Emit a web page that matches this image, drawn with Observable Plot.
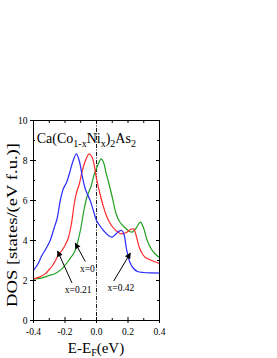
<!DOCTYPE html>
<html><head><meta charset="utf-8">
<script src="https://cdn.jsdelivr.net/npm/d3@7"></script>
<script src="https://cdn.jsdelivr.net/npm/@observablehq/plot@0.6"></script>
<style>body{margin:0;background:#fff}</style>
</head><body><div id="chart"></div>
<script>
const xTicksMajor = [-0.4, -0.2, 0.0, 0.2, 0.4];
const xTicksMinor = [-0.3, -0.1, 0.1, 0.3];
const yTicksMajor = [0, 2, 4, 6, 8, 10];
const yTicksMinor = [1, 3, 5, 7, 9];

const seriesNames = ["x=0", "x=0.21", "x=0.42"];
const seriesColors = ["#22a022", "#ff2a2a", "#2a2aff"];

const energyBlue = [-0.40,-0.37,-0.347,-0.32,-0.294,-0.27,-0.25,-0.23,-0.21,-0.19,-0.17,-0.15,-0.128,-0.11,-0.09,-0.07,-0.04,-0.02,0.0,0.02,0.05,0.08,0.10,0.12,0.14,0.16,0.175,0.19,0.21,0.23,0.26,0.30,0.35,0.40];
const dosBlue    = [2.50,2.85,3.25,3.60,4.00,4.60,5.10,6.00,6.60,6.90,7.40,7.95,8.33,8.00,7.20,6.55,6.00,5.50,5.00,4.75,4.45,4.22,4.17,4.30,4.45,4.50,4.30,3.60,2.95,2.65,2.45,2.40,2.38,2.37];

const energyRed = [-0.40,-0.36,-0.326,-0.30,-0.283,-0.26,-0.241,-0.22,-0.20,-0.18,-0.16,-0.14,-0.125,-0.11,-0.09,-0.07,-0.047,-0.03,-0.018,0.0,0.02,0.04,0.06,0.08,0.10,0.13,0.16,0.19,0.215,0.235,0.25,0.27,0.29,0.31,0.35,0.40];
const dosRed    = [2.08,2.18,2.33,2.55,2.70,3.00,3.30,3.50,3.75,4.10,4.80,5.90,6.45,6.80,7.50,8.00,8.33,8.20,7.90,7.10,6.40,5.80,5.30,4.95,4.70,4.45,4.33,4.40,4.55,4.58,4.30,3.70,3.35,3.15,3.00,2.85];

const energyGreen = [-0.40,-0.35,-0.30,-0.262,-0.22,-0.177,-0.14,-0.12,-0.10,-0.08,-0.06,-0.035,-0.015,0.0,0.015,0.03,0.045,0.06,0.077,0.099,0.126,0.15,0.18,0.21,0.226,0.25,0.279,0.30,0.322,0.35,0.37,0.40];
const dosGreen    = [2.08,2.12,2.25,2.35,2.58,3.00,3.42,3.90,4.60,5.50,6.20,6.70,7.30,7.60,7.90,8.08,7.90,7.40,6.90,6.20,5.30,4.90,4.65,4.45,4.42,4.60,4.92,4.60,4.00,3.55,3.35,3.13];

const arrowFromX = [-0.071, -0.156, 0.109];
const arrowFromY = [2.95, 1.88, 1.97];
const arrowToX = [-0.135, -0.247, 0.215];
const arrowToY = [3.87, 3.47, 3.37];
const labelX = [-0.058, -0.116, 0.155];
const labelY = [2.6, 1.55, 1.62];

const curves = [];
[[energyGreen, dosGreen], [energyRed, dosRed], [energyBlue, dosBlue]].forEach(([xs, ys], i) => {
  xs.forEach((e, j) => curves.push({series: seriesNames[i], e, dos: ys[j]}));
});
const arrows = seriesNames.map((s, i) => ({s, x1: arrowFromX[i], y1: arrowFromY[i], x2: arrowToX[i], y2: arrowToY[i], lx: labelX[i], ly: labelY[i]}));

const font = "Liberation Serif, Times New Roman, serif";
const FH = 200, FW = 126;

const plot = Plot.plot({
  width: 277, height: 358,
  marginLeft: 33, marginRight: 118, marginTop: 120, marginBottom: 38,
  style: {fontFamily: font, fontSize: "9px", background: "white", color: "black"},
  x: {domain: [-0.4, 0.4]},
  y: {domain: [0, 10]},
  color: {domain: seriesNames, range: seriesColors},
  marks: [
    Plot.ruleX([0], {stroke: "black", strokeWidth: 0.9, strokeDasharray: "4,1.5,1,1.5"}),
    Plot.line(curves, {x: "e", y: "dos", z: "series", stroke: "series", strokeWidth: 1.2, curve: "catmull-rom"}),
    Plot.link(arrows, {x1: "x1", y1: "y1", x2: "x2", y2: "y2", stroke: "black", strokeWidth: 1, className: "ann-arrow"}),
    Plot.text(arrows, {x: "lx", y: "ly", text: "s", fontSize: 9.5, fill: "black", fontFamily: font}),
    // ticks
    Plot.ruleX(xTicksMajor, {insetTop: FH - 3, insetBottom: -3, stroke: "black"}),
    Plot.ruleX(xTicksMinor, {insetTop: FH - 2, stroke: "black"}),
    Plot.ruleX(xTicksMajor.concat(xTicksMinor), {insetBottom: FH - 3, stroke: "black"}),
    Plot.ruleY(yTicksMajor, {insetRight: FW - 3, insetLeft: -3, stroke: "black"}),
    Plot.ruleY(yTicksMinor, {insetRight: FW - 2, stroke: "black"}),
    Plot.ruleY(yTicksMajor, {insetLeft: FW - 3, stroke: "black"}),
    Plot.ruleY(yTicksMinor, {insetLeft: FW - 2, stroke: "black"}),
    Plot.axisX(xTicksMajor, {anchor: "bottom", tickSize: 0, tickPadding: 8, tickFormat: d => d.toFixed(1), label: null, fontSize: 9.5}),
    Plot.axisY(yTicksMajor, {anchor: "left", tickSize: 0, tickPadding: 6, tickFormat: d => String(d), label: null, fontSize: 9.5}),
    Plot.frame({stroke: "black", strokeWidth: 1})
  ]
});

const svg = d3.select(plot);
// filled arrowheads
svg.append("defs").append("marker")
  .attr("id", "ahead").attr("viewBox", "0 0 10 10").attr("refX", 9).attr("refY", 5)
  .attr("markerWidth", 7).attr("markerHeight", 6).attr("markerUnits", "userSpaceOnUse")
  .attr("orient", "auto")
  .append("path").attr("d", "M0,0L10,5L0,10z").attr("fill", "black");
svg.selectAll(".ann-arrow path, path.ann-arrow, .ann-arrow line").attr("marker-end", "url(#ahead)");

const sx = plot.scale("x"), sy = plot.scale("y");
// title with subscripts
const t = svg.append("text").attr("x", sx.apply(-0.376)).attr("y", sy.apply(8.83))
  .attr("text-anchor", "start")
  .attr("font-family", font).attr("font-size", 14).attr("fill", "black");
const parts = [["Ca(Co", 0], ["1-x", 1], ["Ni", 0], ["x", 1], [")", 0], ["2", 1], ["As", 0], ["2", 1]];
let prevSub = false;
parts.forEach(([s, sub]) => {
  const ts = t.append("tspan").text(s);
  if (sub) { ts.attr("font-size", 10); if (!prevSub) ts.attr("dy", 3.5); }
  else if (prevSub) ts.attr("dy", -3.5);
  prevSub = !!sub;
});
// x label
const xl = svg.append("text").attr("x", 96).attr("y", 353).attr("text-anchor", "middle")
  .attr("font-family", font).attr("font-size", 15).attr("fill", "black");
xl.append("tspan").text("E-E");
xl.append("tspan").text("F").attr("font-size", 10).attr("dy", 3);
xl.append("tspan").text("(eV)").attr("dy", -3);
// y label
svg.append("text").attr("transform", "translate(17,225) rotate(-90)").attr("text-anchor", "middle")
  .attr("font-family", font).attr("font-size", 15).attr("fill", "black")
  .attr("textLength", 164).attr("lengthAdjust", "spacingAndGlyphs")
  .text("DOS [states/(eV f.u.)]");

document.getElementById("chart").appendChild(plot);
</script>
</body></html>
